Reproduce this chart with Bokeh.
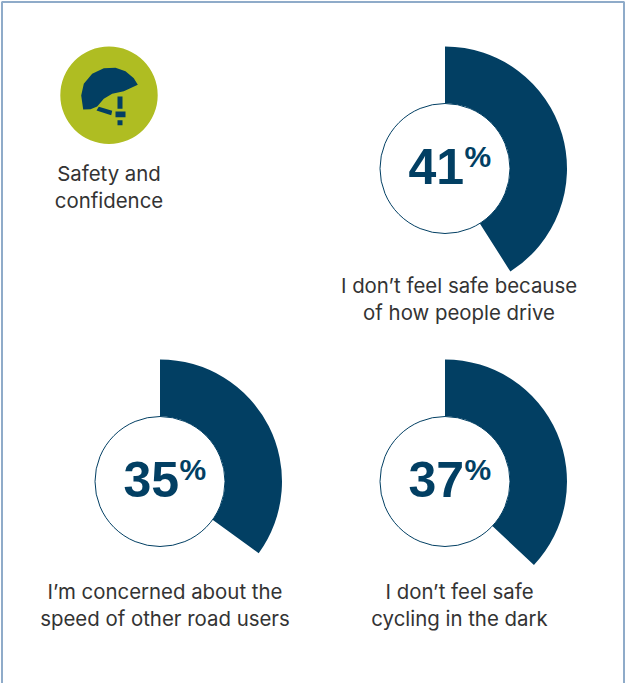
from math import pi

from bokeh.core.properties import value
from bokeh.embed import file_html
from bokeh.models import Range1d
from bokeh.plotting import figure
from bokeh.resources import INLINE

# Survey results, in percent
shares = [41, 35, 37]
captions = [
    ["I don’t feel safe because", "of how people drive"],
    ["I’m concerned about the", "speed of other road users"],
    ["I don’t feel safe", "cycling in the dark"],
]
heading = ["Safety and", "confidence"]

NAVY = "#023f63"
LIME = "#afbd22"
FRAME = "#8fabc9"
INK = "#333333"
LABEL_FONT = "Inter"
FIGURE_FONT = "Liberation Sans"

W, H = 625, 683
OUTER_R, INNER_R = 122, 65
centres = [(444.5, 168), (159.5, 481), (444.5, 481)]
caption_x = [458.5, 164.5, 459]
caption_y = [[285, 312], [591, 618], [591, 618]]


def flip(y):
    """Turn a top-down page offset into the figure's upward y value."""
    return H - y


p = figure(
    width=W, height=H, output_backend="svg", toolbar_location=None,
    x_range=Range1d(0, W), y_range=Range1d(0, H),
    min_border=0, outline_line_color=None, background_fill_color="white",
)
p.axis.visible = False
p.grid.visible = False

# Panel frame, open along the bottom edge
p.line([1.5, 1.5, 623.5, 623.5], [0, flip(1.5), flip(1.5), 0], line_color=FRAME, line_width=2)

for share, (cx, cy), lines, tx, tys in zip(shares, centres, captions, caption_x, caption_y):
    p.annular_wedge(
        x=[cx], y=[flip(cy)], inner_radius=INNER_R, outer_radius=OUTER_R,
        start_angle=pi / 2, end_angle=pi / 2 - 2 * pi * share / 100,
        direction="clock", fill_color=NAVY, line_color=None,
    )
    p.circle(x=[cx], y=[flip(cy)], radius=INNER_R, fill_color="white",
             line_color=NAVY, line_width=1)
    p.text(x=[cx + 19], y=[flip(cy - 2.5)], text=[str(share)], text_color=NAVY,
           text_font=value(FIGURE_FONT), text_font_style="bold", text_font_size="50px",
           text_align="right", text_baseline="alphabetic")
    p.text(x=[cx + 19.5], y=[flip(cy - 12)], text=["%"], text_color=NAVY,
           text_font=value(FIGURE_FONT), text_font_style="bold", text_font_size="30px",
           text_align="left", text_baseline="alphabetic")
    for line, ty in zip(lines, tys):
        p.text(x=[tx], y=[flip(ty)], text=[line], text_color=INK,
               text_font=value(LABEL_FONT), text_font_size="20.4px",
               text_align="center", text_baseline="alphabetic")

# Helmet badge
p.circle(x=[108.5], y=[flip(94.7)], radius=48.7, fill_color=LIME, line_color=None)
helmet_x = [82.7, 80.7, 83.3, 91.7, 103.3, 115, 125, 133.3, 137.3, 123.3, 111.7, 103.3, 96.7, 90]
helmet_y = [109, 95, 83.3, 73.3, 67.7, 67.3, 70.7, 77.7, 84.3, 90.7, 93.3, 98.3, 106, 108.7]
p.patch(helmet_x, [flip(v) for v in helmet_y], fill_color=NAVY, line_color=None)
p.patch([98.3, 111.7, 110.7, 96], [flip(v) for v in [106.3, 110.3, 114.7, 110]],
        fill_color=NAVY, line_color=None)
for left, right, top, bottom in [(117, 122, 96, 108.3), (115, 125, 111, 116.7), (117, 122, 119.7, 124.7)]:
    p.quad(left=[left], right=[right], top=[flip(top)], bottom=[flip(bottom)],
           fill_color=NAVY, line_color=None)

for line, ty in zip(heading, [173, 200]):
    p.text(x=[108.5], y=[flip(ty)], text=[line], text_color=INK,
           text_font=value(LABEL_FONT), text_font_size="20.4px",
           text_align="center", text_baseline="alphabetic")

open("out.html", "w").write(file_html(p, INLINE))
